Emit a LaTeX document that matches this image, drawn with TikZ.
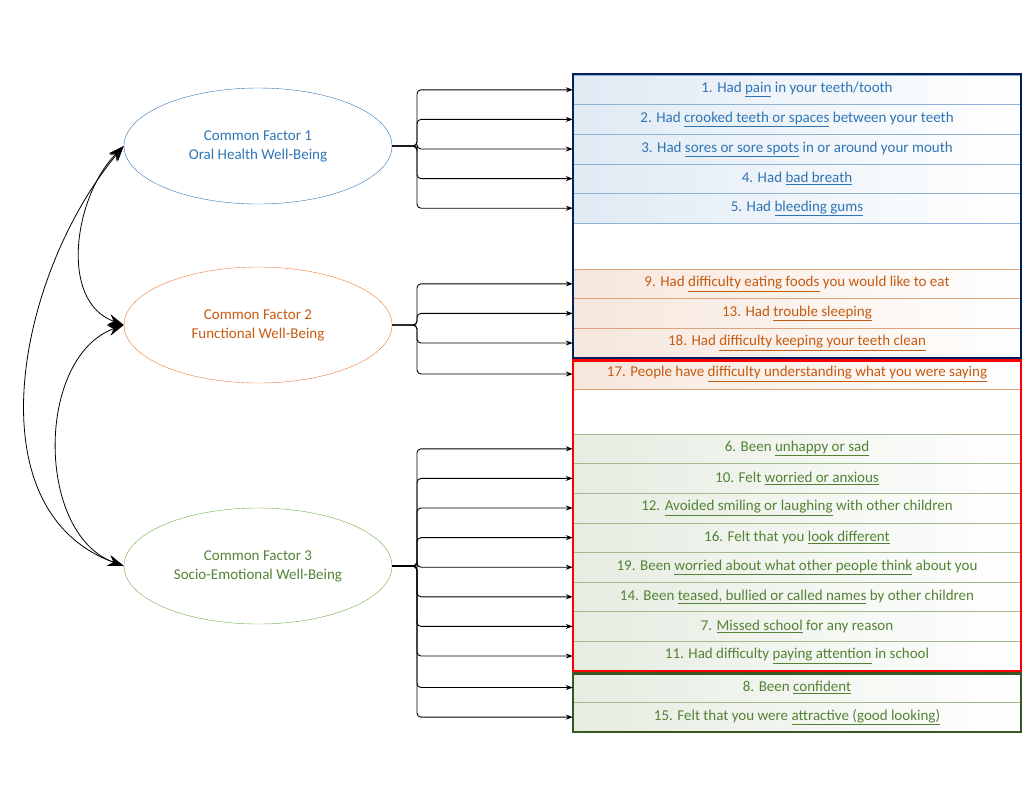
\documentclass[tikz,border=0pt]{standalone}
\usepackage{fontspec}
\setmainfont{Carlito}
\usetikzlibrary{shapes.geometric,arrows.meta}
\definecolor{cblue}{HTML}{2E75B6}
\definecolor{corange}{HTML}{C55A11}
\definecolor{cgreen}{HTML}{548235}
\definecolor{eorange}{HTML}{ED7D31}
\definecolor{egreen}{HTML}{70AD47}
\tikzset{
  factor/.style={ellipse,draw=#1,text=#1,minimum width=268,minimum height=116,align=center,font=\fontsize{15}{19}\selectfont},
  item/.style={minimum width=448,minimum height=29.6,inner sep=0pt,draw=#1!55,left color=#1!15,right color=white,text=#1,font=\fontsize{15}{18}\selectfont},
  link/.style={-{Stealth[length=7,width=5]},line width=0.9pt,rounded corners=4},
  corr/.style={{Stealth[length=16,width=11]}-{Stealth[length=16,width=11]},thick}
}
\begin{document}
\begin{tikzpicture}[x=1pt,y=-1pt]
\useasboundingbox (0,0) rectangle (1024,807);
\node[factor=cblue] (f1) at (258,146) {Common Factor 1\\Oral Health Well-Being};
\node[factor=eorange,text=corange] (f2) at (258,325) {Common Factor 2\\Functional Well-Being};
\node[factor=egreen,text=cgreen] (f3) at (258,566) {Common Factor 3\\Socio-Emotional Well-Being};
% items
\foreach \n/\y/\c/\t in {
  1/89.8/cblue/{1. Had \underline{pain} in your teeth/tooth},
  2/119.4/cblue/{2. Had \underline{crooked teeth or spaces} between your teeth},
  3/149/cblue/{3. Had \underline{sores or sore spots} in or around your mouth},
  4/178.6/cblue/{4. Had \underline{bad breath}},
  5/208.2/cblue/{5. Had \underline{bleeding gums}},
  9/283.8/corange/{9. Had \underline{difficulty eating foods} you would like to eat},
  13/313.4/corange/{13. Had \underline{trouble sleeping}},
  18/343/corange/{18. Had \underline{difficulty keeping your teeth clean}},
  17/374/corange/{17. People have \underline{difficulty understanding what you were saying}},
  6/448.8/cgreen/{6. Been \underline{unhappy or sad}},
  10/478.4/cgreen/{10. Felt \underline{worried or anxious}},
  12/508/cgreen/{12. \underline{Avoided smiling or laughing} with other children},
  16/537.6/cgreen/{16. Felt that you \underline{look different}},
  19/567.2/cgreen/{19. Been \underline{worried about what other people think} about you},
  14/596.8/cgreen/{14. Been \underline{teased, bullied or called names} by other children},
  7/626.4/cgreen/{7. \underline{Missed school} for any reason},
  11/656/cgreen/{11. Had difficulty \underline{paying attention} in school},
  8/687.5/cgreen/{8. Been \underline{confident}},
  15/717.1/cgreen/{15. Felt that you were \underline{attractive (good looking)}}}
  \node[item=\c] (r\n) at (797,\y) {\t};
% boxes
\draw[line width=2.5pt,color={rgb,255:red,0;green,32;blue,96}] (573,74) rectangle (1021,358);
\draw[line width=2.5pt,red] (573,360.5) rectangle (1021,671);
\draw[line width=2.5pt,color={rgb,255:red,56;green,87;blue,35}] (573,673.5) rectangle (1021,732);
% links
\foreach \r in {1,2,3,4,5}
  \draw[link] (f1.east) -- (417,146) |- (r\r.west);
\foreach \r in {9,13,18,17}
  \draw[link] (f2.east) -- (417,325) |- (r\r.west);
\foreach \r in {6,10,12,16,19,14,7,11,8,15}
  \draw[link] (f3.east) -- (417,566) |- (r\r.west);
% correlations
\draw[corr] (f1.west) to[out=225,in=160] (f2.west);
\draw[corr] (f2.west) to[out=200,in=160] (f3.west);
\draw[corr] (f1.west) to[out=230,in=160] (f3.west);
\end{tikzpicture}
\end{document}
